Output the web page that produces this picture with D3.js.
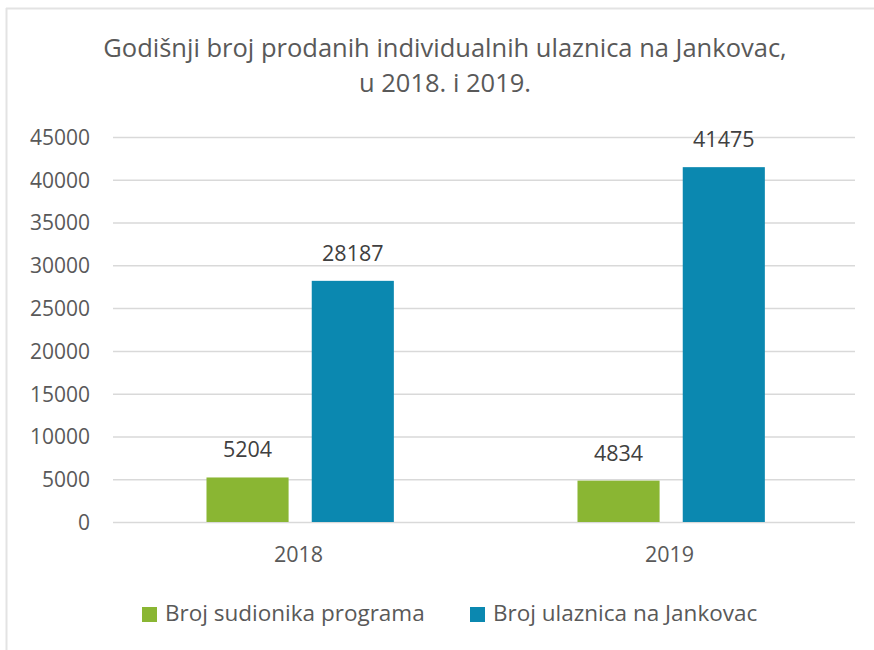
<!DOCTYPE html>
<html>
<head>
<meta charset="utf-8">
<script src="https://cdn.jsdelivr.net/npm/d3@7"></script>
<style>
  body { margin: 0; background: #fff; }
  text { font-family: 'Open Sans', sans-serif; }
</style>
</head>
<body>
<svg width="874" height="650"></svg>
<script>
// chart data
const years = ['2018', '2019'];
const seriesNames = ['Broj sudionika programa', 'Broj ulaznica na Jankovac'];
const sudionici = [5204, 4834];
const ulaznice = [28187, 41475];
const yTicks = [0, 5000, 10000, 15000, 20000, 25000, 30000, 35000, 40000, 45000];
const titleLines = ['Godišnji broj prodanih individualnih ulaznica na Jankovac,', 'u 2018. i 2019.'];

const colors = ['#8ab633', '#0b88b0'];

const svg = d3.select('svg');
const width = +svg.attr('width');

const margin = { top: 137, right: 19, bottom: 128, left: 113 };
const innerWidth = width - margin.left - margin.right;
const innerHeight = 650 - margin.top - margin.bottom;

// frame lines (top and left only, like the screenshot)
svg.append('line').attr('x1', 6).attr('x2', 874).attr('y1', 8.5).attr('y2', 8.5)
    .attr('stroke', '#e3e3e3').attr('stroke-width', 2);
svg.append('line').attr('x1', 6.5).attr('x2', 6.5).attr('y1', 8).attr('y2', 650)
    .attr('stroke', '#e3e3e3').attr('stroke-width', 2);

// title
svg.append('text')
    .attr('text-anchor', 'middle')
    .attr('fill', '#595959')
    .style('font-size', '25.5px')
  .selectAll('tspan').data(titleLines).enter().append('tspan')
    .attr('x', 445)
    .attr('y', (d, i) => 57 + i * 35)
    .text(d => d);

const g = svg.append('g')
    .attr('transform', `translate(${margin.left},${margin.top})`);

const x0 = d3.scaleBand()
    .domain(years)
    .range([0, innerWidth]);

const x1 = d3.scaleBand()
    .domain([0, 1])
    .range([x0.bandwidth() * 0.252, x0.bandwidth() * 0.757])
    .paddingInner(0.22);

const yScale = d3.scaleLinear()
    .domain([0, 45000])
    .range([innerHeight, 0]);

// gridlines + y labels
const yAxis = d3.axisLeft(yScale)
    .tickValues(yTicks)
    .tickSize(-innerWidth)
    .tickPadding(23)
    .tickFormat(d => d);

const yAxisG = g.append('g').call(yAxis);
yAxisG.select('.domain').remove();
yAxisG.selectAll('.tick line').attr('stroke', '#d9d9d9').attr('stroke-width', 1.5);
yAxisG.selectAll('.tick text')
    .attr('fill', '#595959')
    .style('font-size', '21px')
    .attr('dy', '0.35em');

// x labels
const xAxisG = g.append('g')
    .attr('transform', `translate(0,${innerHeight})`)
    .call(d3.axisBottom(x0).tickSize(0).tickPadding(25));
xAxisG.select('.domain').remove();
xAxisG.selectAll('.tick text')
    .attr('fill', '#595959')
    .style('font-size', '21.5px');

// bars
const rows = years.map((year, i) => ({ year, values: [sudionici[i], ulaznice[i]] }));

const yearG = g.selectAll('.year').data(rows).enter().append('g')
    .attr('class', 'year')
    .attr('transform', d => `translate(${x0(d.year)},0)`);

yearG.selectAll('rect').data(d => d.values.map((v, k) => ({ v, k }))).enter().append('rect')
    .attr('x', d => x1(d.k))
    .attr('width', x1.bandwidth())
    .attr('y', d => yScale(d.v))
    .attr('height', d => innerHeight - yScale(d.v))
    .attr('fill', d => colors[d.k]);

yearG.selectAll('.lbl').data(d => d.values.map((v, k) => ({ v, k }))).enter().append('text')
    .attr('class', 'lbl')
    .attr('text-anchor', 'middle')
    .attr('x', d => x1(d.k) + x1.bandwidth() / 2)
    .attr('y', d => yScale(d.v) - 20)
    .attr('fill', '#404040')
    .style('font-size', '21.5px')
    .text(d => d.v);

// legend
const legendX = [142, 470];
const legend = svg.selectAll('.legend').data(seriesNames).enter().append('g')
    .attr('class', 'legend')
    .attr('transform', (d, i) => `translate(${legendX[i]},607)`);
legend.append('rect')
    .attr('width', 15).attr('height', 15)
    .attr('fill', (d, i) => colors[i]);
legend.append('text')
    .attr('x', 23)
    .attr('y', 14)
    .attr('fill', '#595959')
    .style('font-size', '22.5px')
    .text(d => d);
</script>
</body>
</html>
